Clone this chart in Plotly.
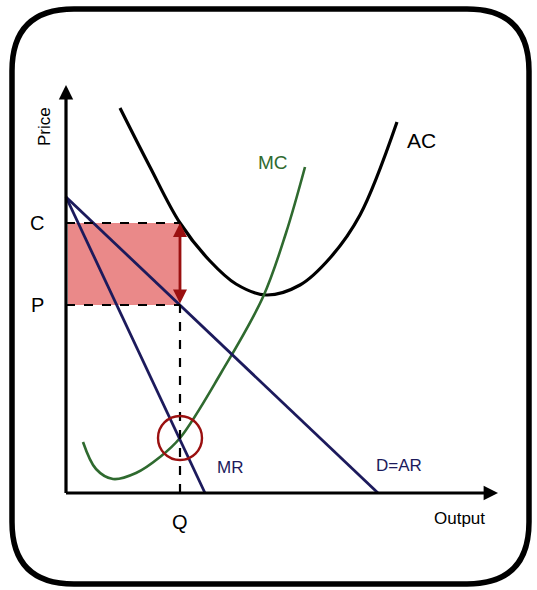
import plotly.graph_objects as go

# Monopoly short-run equilibrium: quantity Q where MR = MC, price P off demand,
# average cost C at Q, and the supernormal profit box (C - P) x Q.

# Demand (D = AR) and marginal revenue, as straight lines
demand_q = [0.0, 31.2]
demand_p = [29.6, 0.0]
mr_q = [0.0, 13.9]
mr_p = [29.6, 0.0]

# Marginal cost curve (read points, smoothed)
mc_q = [1.7, 3.0, 4.7, 7.0, 9.4, 11.4, 15.5, 19.7, 22.0, 23.9]
mc_p = [5.1, 2.4, 1.4, 2.0, 3.6, 5.5, 12.0, 19.6, 26.0, 32.6]

# Average cost curve (read points, smoothed)
ac_q = [5.4, 8.4, 11.4, 14.4, 17.0, 20.0, 23.4, 26.4, 29.4, 33.1]
ac_p = [38.5, 32.6, 27.0, 23.2, 20.9, 19.8, 20.8, 23.5, 27.8, 37.1]

# Equilibrium values
Q = 11.4
P = 18.8
C = 27.0
MR_AT_Q = 5.5

NAVY = "#1c1a5c"
GREEN = "#2f6a2f"
DARK_RED = "#9a1010"
FONT = "Liberation Sans, Arial, sans-serif"

fig = go.Figure()

# profit rectangle
fig.add_shape(type="rect", x0=0.2, x1=Q, y0=P, y1=C, xref="x", yref="y",
              fillcolor="rgba(228,104,104,0.78)", line_width=0, layer="below")

fig.add_trace(go.Scatter(x=ac_q, y=ac_p, mode="lines", line=dict(color="black", width=3.2, shape="spline"),
                         hoverinfo="skip"))
fig.add_trace(go.Scatter(x=mc_q, y=mc_p, mode="lines", line=dict(color=GREEN, width=2.6, shape="spline"),
                         hoverinfo="skip"))
fig.add_trace(go.Scatter(x=demand_q, y=demand_p, mode="lines", line=dict(color=NAVY, width=2.8),
                         hoverinfo="skip"))
fig.add_trace(go.Scatter(x=mr_q, y=mr_p, mode="lines", line=dict(color=NAVY, width=2.8),
                         hoverinfo="skip"))

# dashed guide lines
for x0, y0, x1, y1 in [(0, C, Q, C), (0, P, Q, P), (Q, 0, Q, P)]:
    fig.add_shape(type="line", x0=x0, y0=y0, x1=x1, y1=y1, xref="x", yref="y",
                  line=dict(color="black", width=2.2, dash="dash"))

# MR = MC circle
r = 2.2
fig.add_shape(type="circle", x0=Q - r, x1=Q + r, y0=MR_AT_Q - r, y1=MR_AT_Q + r,
              xref="x", yref="y", line=dict(color=DARK_RED, width=2.4))

annotations = []
# double-headed profit arrow
annotations.append(dict(x=Q, y=C, ax=Q, ay=P, xref="x", yref="y", axref="x", ayref="y",
                        showarrow=True, arrowhead=2, startarrowhead=2, arrowside="end+start",
                        arrowwidth=2.8, arrowsize=1.0, startarrowsize=1.0, arrowcolor=DARK_RED, text=""))
# axes with arrowheads
annotations.append(dict(x=0, y=40.8, ax=0, ay=-0.15, xref="x", yref="y", axref="x", ayref="y",
                        showarrow=True, arrowhead=2, arrowwidth=3.2, arrowsize=0.9,
                        arrowcolor="black", text=""))
annotations.append(dict(x=43.2, y=0, ax=-0.15, ay=0, xref="x", yref="y", axref="x", ayref="y",
                        showarrow=True, arrowhead=2, arrowwidth=3.2, arrowsize=0.9,
                        arrowcolor="black", text=""))


def label(text, x, y, size, color="black", angle=0):
    annotations.append(dict(text=text, x=x, y=y, xref="x", yref="y", showarrow=False,
                            textangle=angle, font=dict(family=FONT, size=size, color=color)))


label("C", -2.9, C, 20)
label("P", -2.9, P, 20)
label("Q", Q, -2.9, 20)
label("Price", -2.2, 36.6, 17, angle=-90)
label("Output", 39.3, -2.5, 17)
label("AC", 35.5, 35.3, 21)
label("MC", 20.7, 33.1, 19, GREEN)
label("MR", 16.4, 2.6, 17, NAVY)
label("D=AR", 33.3, 2.8, 17, NAVY)

# rounded frame around the diagram (paper coordinates)
W, H = 537.0, 590.0
left, right, top, bottom, rad = 12.0, 529.0, 9.0, 584.0, 62.0


def px(x):
    return x / W


def py(y):
    return 1 - y / H


frame = (f"M {px(left + rad)},{py(top)} L {px(right - rad)},{py(top)} "
         f"Q {px(right)},{py(top)} {px(right)},{py(top + rad)} "
         f"L {px(right)},{py(bottom - rad)} "
         f"Q {px(right)},{py(bottom)} {px(right - rad)},{py(bottom)} "
         f"L {px(left + rad)},{py(bottom)} "
         f"Q {px(left)},{py(bottom)} {px(left)},{py(bottom - rad)} "
         f"L {px(left)},{py(top + rad)} "
         f"Q {px(left)},{py(top)} {px(left + rad)},{py(top)} Z")
fig.add_shape(type="path", path=frame, xref="paper", yref="paper",
              line=dict(color="black", width=5.5), layer="below")

fig.update_layout(
    width=537, height=590,
    margin=dict(l=0, r=0, t=0, b=0),
    paper_bgcolor="white", plot_bgcolor="white",
    showlegend=False,
    annotations=annotations,
    xaxis=dict(range=[-6.6, 47.1], visible=False, fixedrange=True),
    yaxis=dict(range=[-9.7, 49.3], visible=False, fixedrange=True),
)

fig.write_html("out.html")
